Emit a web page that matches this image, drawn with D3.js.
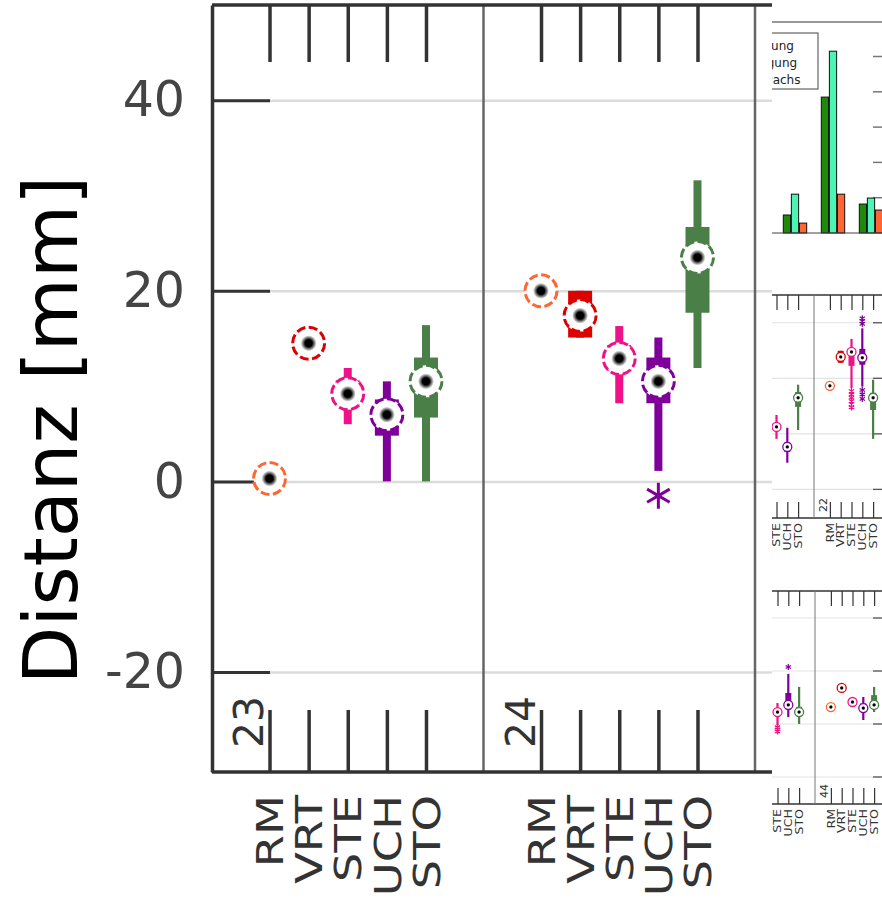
<!DOCTYPE html>
<html>
<head>
<meta charset="utf-8">
<script src="https://cdn.jsdelivr.net/npm/d3@7"></script>
<style>
  body { margin: 0; background: #fff; }
  svg { display: block; font-family: "DejaVu Sans", sans-serif; }
</style>
</head>
<body>
<div id="chart"></div>
<script>
// ---- data ----
var methods = ["RM", "VRT", "STE", "UCH", "STO"];
var methodColors = ["#ff6633", "#dd0000", "#ee1188", "#7f0099", "#4a8048"];
var panels = ["23", "24"];
var yTicks = [40, 20, 0, -20];

// [low whisker, q1, median, q3, high whisker] in method order
var panel23 = [
  [0.3, 0.3, 0.3, 0.3, 0.3],
  [14.5, 14.5, 14.5, 14.5, 14.5],
  [6.0, 8.0, 9.2, 10.6, 11.9],
  [0.0, 4.8, 7.0, 8.6, 10.5],
  [0.0, 6.7, 10.5, 13.0, 16.4]
];
var panel24 = [
  [20.0, 20.0, 20.0, 20.0, 20.0],
  [15.1, 15.1, 17.4, 20.0, 20.0],
  [8.2, 11.6, 12.9, 14.3, 16.3],
  [1.1, 8.2, 10.5, 13.0, 15.1],
  [11.9, 17.7, 23.5, 26.7, 31.6]
];
var outliers24 = [["UCH", -1.5]];

// thumbnails on the right
var miniTopPanels = ["21", "22"];
var mini21 = [
  ["STE", -1.8, 1.5, 2.5, 3.8, 6.8],
  ["UCH", -10.4, -6.5, -4.7, -3.0, 2.2],
  ["STO", 1.4, 9.7, 13.0, 15.1, 17.7]
];
var mini22 = [
  ["RM", 17.3, 17.3, 17.3, 17.3, 17.3],
  ["VRT", 25.6, 25.6, 27.7, 29.9, 29.9],
  ["STE", 16.5, 24.5, 29.5, 30.3, 34.2],
  ["UCH", 17.0, 24.9, 27.4, 30.6, 38.0],
  ["STO", -1.8, 8.6, 13.0, 14.8, 19.5]
];
var miniOut22 = [["STE", 9.5], ["STE", 10.7], ["STE", 11.8], ["STE", 13.0], ["STE", 14.2], ["STE", 15.4],
  ["UCH", 39.6], ["UCH", 40.6], ["UCH", 41.6], ["UCH", 12.6], ["UCH", 14.2], ["UCH", 15.8]];

var miniBottomPanels = ["43", "44"];
var mini43 = [
  ["STE", -0.5, 3.5, 4.5, 5.8, 7.9],
  ["UCH", 2.6, 5.5, 7.2, 11.7, 18.9],
  ["STO", 0.0, 3.0, 4.5, 6.5, 14.0]
];
var mini44 = [
  ["RM", 6.4, 6.4, 6.4, 6.4, 6.4],
  ["VRT", 13.6, 13.6, 13.6, 13.6, 13.6],
  ["STE", 8.3, 8.3, 8.3, 8.3, 8.3],
  ["UCH", 1.5, 4.8, 6.0, 7.8, 10.2],
  ["STO", 4.5, 6.2, 7.2, 10.9, 14.0]
];
var miniOut43 = [["STE", -1.2], ["STE", -2.0], ["STE", -2.8], ["UCH", 21.5]];

var barGroups = ["1", "2", "3"];
var barSeries = ["Hebung", "Neigung", "Zuwachs"];
var barColors = ["#1f8a0a", "#4df5b4", "#ff6633"];
var hebung = [0.51, 3.85, 0.82];
var neigung = [1.1, 5.15, 0.99];
var zuwachs = [0.28, 1.1, 0.65];
var barTicks = [1, 2, 3, 4, 5];

// ---- setup ----
var W = 882, H = 904;
var svg = d3.select("#chart").append("svg").attr("width", W).attr("height", H);
var defs = svg.append("defs");
defs.append("clipPath").attr("id", "clipMain")
  .append("rect").attr("x", 0).attr("y", 0).attr("width", 772).attr("height", H);
defs.append("clipPath").attr("id", "clipThumb")
  .append("rect").attr("x", 772).attr("y", 0).attr("width", W - 772).attr("height", H);
var grad = defs.append("radialGradient").attr("id", "dot");
grad.append("stop").attr("offset", "0%").attr("stop-color", "#000");
grad.append("stop").attr("offset", "45%").attr("stop-color", "#000");
grad.append("stop").attr("offset", "100%").attr("stop-color", "#000").attr("stop-opacity", 0);

var colorOf = d3.scaleOrdinal().domain(methods).range(methodColors);
var star = d3.symbolAsterisk || d3.symbolCross;

function drawBoxes(g, rows, x, y, sz) {
  rows.forEach(function (r) {
    var m = r[0], s = r.slice(1), cx = x(m), c = colorOf(m);
    if (s[4] > s[0]) {
      g.append("rect").attr("x", cx - sz.wh / 2).attr("width", sz.wh)
        .attr("y", y(s[4])).attr("height", y(s[0]) - y(s[4])).attr("fill", c);
    }
    if (s[3] > s[1]) {
      g.append("rect").attr("x", cx - sz.box / 2).attr("width", sz.box)
        .attr("y", y(s[3])).attr("height", y(s[1]) - y(s[3])).attr("fill", c);
    }
    g.append("circle").attr("cx", cx).attr("cy", y(s[2])).attr("r", sz.r)
      .attr("fill", "#fff").attr("stroke", c).attr("stroke-width", sz.sw)
      .attr("stroke-dasharray", sz.dash);
    g.append("circle").attr("cx", cx).attr("cy", y(s[2])).attr("r", sz.dot)
      .attr("fill", "url(#dot)");
  });
}

function drawOutliers(g, rows, x, y, size, sw) {
  rows.forEach(function (o) {
    g.append("path").attr("d", d3.symbol().type(star).size(size)())
      .attr("transform", "translate(" + x(o[0]) + "," + y(o[1]) + ")")
      .attr("fill", "none").attr("stroke", colorOf(o[0])).attr("stroke-width", sw);
  });
}

// ---- main chart ----
var main = svg.append("g").attr("clip-path", "url(#clipMain)");
var y = d3.scaleLinear().domain([-30.5, 50]).range([772, 5]);
var panelX = d3.scaleBand().domain(panels).range([212, 755]);
var x = d3.scalePoint().domain(methods).range([0, panelX.bandwidth()]).padding(1.47);

// grid
main.append("g").attr("transform", "translate(212,0)")
  .call(d3.axisLeft(y).tickValues(yTicks).tickSize(-560).tickFormat(""))
  .call(function (g) { g.select(".domain").remove(); })
  .selectAll("line").attr("stroke", "#dcdcdc").attr("stroke-width", 2.5);

// panel dividers
panels.forEach(function (p) {
  main.append("line")
    .attr("x1", panelX(p) + panelX.bandwidth()).attr("x2", panelX(p) + panelX.bandwidth())
    .attr("y1", 5).attr("y2", 772)
    .attr("stroke", "#666").attr("stroke-width", 2.5);
});

// frame top / bottom
[5, 772].forEach(function (yy) {
  main.append("line").attr("x1", 212).attr("x2", 772).attr("y1", yy).attr("y2", yy)
    .attr("stroke", "#333").attr("stroke-width", 3.5);
});

// y axis
var yAxis = main.append("g").attr("transform", "translate(212,0)")
  .call(d3.axisLeft(y).tickValues(yTicks).tickSize(-58).tickSizeOuter(0).tickPadding(27)
    .tickFormat(function (d) { return String(d); }));
yAxis.select(".domain").attr("stroke", "#333").attr("stroke-width", 3.5);
yAxis.selectAll(".tick line").attr("stroke", "#333").attr("stroke-width", 3);
yAxis.selectAll(".tick text")
  .attr("font-family", "DejaVu Sans").attr("font-size", 49).attr("fill", "#444");

main.append("text")
  .attr("transform", "translate(77,430) rotate(-90)")
  .attr("text-anchor", "middle")
  .attr("font-size", 75)
  .attr("fill", "#000")
  .text("Distanz [mm]");

panels.forEach(function (p, i) {
  var g = main.append("g").attr("transform", "translate(" + panelX(p) + ",0)");

  g.append("g").attr("transform", "translate(0,5)")
    .call(d3.axisTop(x).tickSize(-57).tickFormat(""))
    .call(function (a) { a.select(".domain").remove(); })
    .selectAll("line").attr("stroke", "#333").attr("stroke-width", 3.5);

  g.append("g").attr("transform", "translate(0,772)")
    .call(d3.axisBottom(x).tickSize(-62).tickFormat(""))
    .call(function (a) { a.select(".domain").remove(); })
    .selectAll("line").attr("stroke", "#333").attr("stroke-width", 3.5);

  g.append("text")
    .attr("transform", "translate(" + (x(methods[0]) - 6.5) + ",748) rotate(-90)")
    .attr("font-size", 41).attr("fill", "#333")
    .text(p);

  methods.forEach(function (m) {
    g.append("text")
      .attr("transform", "translate(" + x(m) + ",795) scale(1,1.22) rotate(-90)")
      .attr("text-anchor", "end").attr("dy", "0.36em")
      .attr("font-size", 38).attr("fill", "#333")
      .text(m);
  });

  var stats = i === 0 ? panel23 : panel24;
  var rows = stats.map(function (s, k) { return [methods[k]].concat(s); });
  drawBoxes(g, rows, x, y, { wh: 8, box: 24, r: 16, sw: 3, dash: "9,3.5", dot: 8 });
  if (i === 1) drawOutliers(g, outliers24, x, y, 480, 3);
});

// ---- thumbnails ----
var thumb = svg.append("g").attr("clip-path", "url(#clipThumb)");

// bar chart
var by = d3.scaleLinear().domain([0, 5]).range([233, 56.5]);
var bx = d3.scalePoint().domain(barGroups).range([795, 871]);
var bs = d3.scaleBand().domain(barSeries).range([-12.5, 12.5]).padding(0.1);
var barValues = [hebung, neigung, zuwachs];

thumb.append("line").attr("x1", 772).attr("x2", W).attr("y1", 22).attr("y2", 22)
  .attr("stroke", "#333").attr("stroke-width", 1.2);
barTicks.forEach(function (t) {
  thumb.append("line").attr("x1", 873).attr("x2", W).attr("y1", by(t)).attr("y2", by(t))
    .attr("stroke", "#777").attr("stroke-width", 1.5);
});
barSeries.forEach(function (s, k) {
  barGroups.forEach(function (gname, j) {
    thumb.append("rect")
      .attr("x", bx(gname) + bs(s)).attr("width", bs.bandwidth())
      .attr("y", by(barValues[k][j])).attr("height", by(0) - by(barValues[k][j]))
      .attr("fill", barColors[k]).attr("stroke", "#111").attr("stroke-width", 1);
  });
});
thumb.append("line").attr("x1", 772).attr("x2", W).attr("y1", by(0)).attr("y2", by(0))
  .attr("stroke", "#444").attr("stroke-width", 1.2);

var legend = thumb.append("g");
legend.append("rect").attr("x", 700).attr("y", 33).attr("width", 118).attr("height", 56)
  .attr("fill", "#fff").attr("stroke", "#444").attr("stroke-width", 1);
barSeries.forEach(function (s, k) {
  legend.append("text").attr("x", 747).attr("y", 50 + k * 17)
    .attr("font-size", 12).attr("fill", "#222").text(s);
});

function drawMini(cfg) {
  var g = thumb.append("g");
  var my = d3.scaleLinear().domain(cfg.domain).range([cfg.bottom, cfg.top]);
  var mp = d3.scaleBand().domain(cfg.panels).range([cfg.left, cfg.left + 150]);
  var mx = d3.scalePoint().domain(methods).range([0, mp.bandwidth()]).padding(1.47);

  yTicks.forEach(function (t) {
    g.append("line").attr("x1", 772).attr("x2", W).attr("y1", my(t)).attr("y2", my(t))
      .attr("stroke", "#e3e3e3").attr("stroke-width", 1.2);
    g.append("line").attr("x1", 873).attr("x2", W).attr("y1", my(t)).attr("y2", my(t))
      .attr("stroke", "#555").attr("stroke-width", 1.3);
  });
  [cfg.top, cfg.bottom].forEach(function (yy) {
    g.append("line").attr("x1", 772).attr("x2", W).attr("y1", yy).attr("y2", yy)
      .attr("stroke", "#333").attr("stroke-width", 1.3);
  });
  g.append("line").attr("x1", mp(cfg.panels[1])).attr("x2", mp(cfg.panels[1]))
    .attr("y1", cfg.top).attr("y2", cfg.bottom).attr("stroke", "#777").attr("stroke-width", 1);

  cfg.panels.forEach(function (p, i) {
    var pg = g.append("g").attr("transform", "translate(" + mp(p) + ",0)");
    pg.append("g").attr("transform", "translate(0," + cfg.top + ")")
      .call(d3.axisTop(mx).tickSize(-15).tickFormat(""))
      .call(function (a) { a.select(".domain").remove(); })
      .selectAll("line").attr("stroke", "#333").attr("stroke-width", 1.2);
    pg.append("g").attr("transform", "translate(0," + cfg.bottom + ")")
      .call(d3.axisBottom(mx).tickSize(-16).tickFormat(""))
      .call(function (a) { a.select(".domain").remove(); })
      .selectAll("line").attr("stroke", "#333").attr("stroke-width", 1.2);
    pg.append("text")
      .attr("transform", "translate(" + (mx(methods[0]) - 2.5) + "," + (cfg.bottom - 6) + ") rotate(-90)")
      .attr("font-size", 11).attr("fill", "#333").text(p);
    methods.forEach(function (m) {
      pg.append("text")
        .attr("transform", "translate(" + mx(m) + "," + (cfg.bottom + 5) + ") scale(1,1.2) rotate(-90)")
        .attr("text-anchor", "end").attr("dy", "0.36em")
        .attr("font-size", 10.5).attr("fill", "#333").text(m);
    });
    var sz = { wh: 2.2, box: 6, r: 4.5, sw: 1.3, dash: null, dot: 2.2 };
    drawBoxes(pg, cfg.data[i], mx, my, sz);
    drawOutliers(pg, cfg.out[i], mx, my, 26, 1.2);
  });
}

drawMini({ panels: miniTopPanels, data: [mini21, mini22], out: [[], miniOut22],
  domain: [-30.3, 50], top: 295, bottom: 518, left: 739 });
drawMini({ panels: miniBottomPanels, data: [mini43, mini44], out: [miniOut43, []],
  domain: [-30.2, 50.2], top: 591, bottom: 804, left: 740 });
</script>
</body>
</html>
